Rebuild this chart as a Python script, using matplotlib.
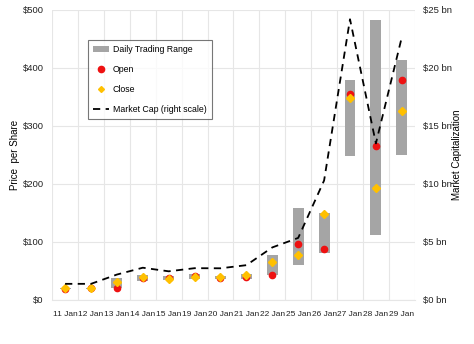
import numpy as np
import matplotlib.pyplot as plt
from matplotlib.lines import Line2D
from matplotlib.patches import Patch

# GameStop, January 2021
days = ["11 Jan", "12 Jan", "13 Jan", "14 Jan", "15 Jan", "19 Jan", "20 Jan",
        "21 Jan", "22 Jan", "25 Jan", "26 Jan", "27 Jan", "28 Jan", "29 Jan"]
open_px = [19.4, 20.0, 20.4, 38.1, 38.5, 41.6, 37.4, 39.2, 42.6, 96.7, 88.6, 354.8, 265.0, 379.7]
high_px = [20.7, 20.4, 38.7, 43.1, 40.8, 45.5, 41.2, 44.8, 76.8, 159.2, 150.0, 380.0, 483.0, 414.0]
low_px = [19.0, 19.3, 20.0, 33.1, 34.0, 36.6, 36.1, 37.0, 42.3, 61.1, 80.2, 249.0, 112.3, 250.0]
close_px = [19.9, 20.0, 31.4, 39.9, 35.5, 39.4, 39.1, 43.0, 65.0, 76.8, 148.0, 347.5, 193.6, 325.0]
mcap_bn = [1.39, 1.39, 2.19, 2.78, 2.47, 2.74, 2.73, 3.0, 4.53, 5.35, 10.3, 24.2, 13.5, 22.65]

plt.rcParams["font.family"] = ["Liberation Sans", "DejaVu Sans"]

fig = plt.figure(figsize=(4.74, 3.44), dpi=100)
ax = fig.add_axes([0.110, 0.128, 0.765, 0.843])
ax2 = ax.twinx()

x = np.arange(len(days))
grid_c = "#e6e6e6"

ax.bar(x, np.array(high_px) - np.array(low_px), bottom=low_px, width=0.42,
       color="#a5a5a5", zorder=2)
ax.plot(x, open_px, "o", color="#ee1111", markersize=4.5, zorder=3)
ax.plot(x, close_px, "D", color="#ffc000", markersize=4, zorder=4)
ax2.plot(x, mcap_bn, color="black", linestyle=(0, (4, 3)), linewidth=1.3, zorder=5)

ax.set_xlim(-0.5, len(days) - 0.5)
ax.set_ylim(0, 500)
ax2.set_ylim(0, 25)
ax.set_yticks(range(0, 501, 100))
ax.set_yticklabels(["$%d" % v for v in range(0, 501, 100)])
ax2.set_yticks(range(0, 26, 5))
ax2.set_yticklabels(["$%d bn" % v for v in range(0, 26, 5)])
ax.set_xticks(x)
ax.set_xticklabels(days)
ax.set_xticks(np.arange(-0.5, len(days)), minor=True)

ax.grid(axis="y", color=grid_c, linewidth=0.8, zorder=0)
ax.grid(axis="x", which="minor", color=grid_c, linewidth=0.8, zorder=0)
ax.set_axisbelow(True)
for a in (ax, ax2):
    for s in a.spines.values():
        s.set_visible(False)
    a.tick_params(which="both", length=0, labelsize=6.8, colors="#222222")
ax.tick_params(axis="x", labelsize=6.0, pad=8)
ax.tick_params(axis="y", pad=6)
ax2.tick_params(axis="y", pad=6)
ax.spines["bottom"].set_visible(True)
ax.spines["bottom"].set_color(grid_c)

ax.set_ylabel("Price  per Share", fontsize=7, labelpad=2)
ax2.set_ylabel("Market Capitalization", fontsize=7, labelpad=0)

handles = [
    Patch(facecolor="#a5a5a5", label="Daily Trading Range"),
    Line2D([], [], marker="o", linestyle="none", color="#ee1111", markersize=4.5, label="Open"),
    Line2D([], [], marker="D", linestyle="none", color="#ffc000", markersize=3, label="Close"),
    Line2D([], [], color="black", linestyle=(0, (4, 3)), linewidth=1.3, label="Market Cap (right scale)"),
]
leg = ax2.legend(handles=handles, loc="upper left", bbox_to_anchor=(0.099, 0.897),
                 fontsize=6.3, frameon=True, fancybox=False, edgecolor="#555555",
                 handlelength=1.8, handleheight=0.6, handletextpad=0.4,
                 labelspacing=1.25, borderpad=0.6, borderaxespad=0)
leg.get_frame().set_linewidth(0.8)

fig.savefig("out.png", dpi=100)
